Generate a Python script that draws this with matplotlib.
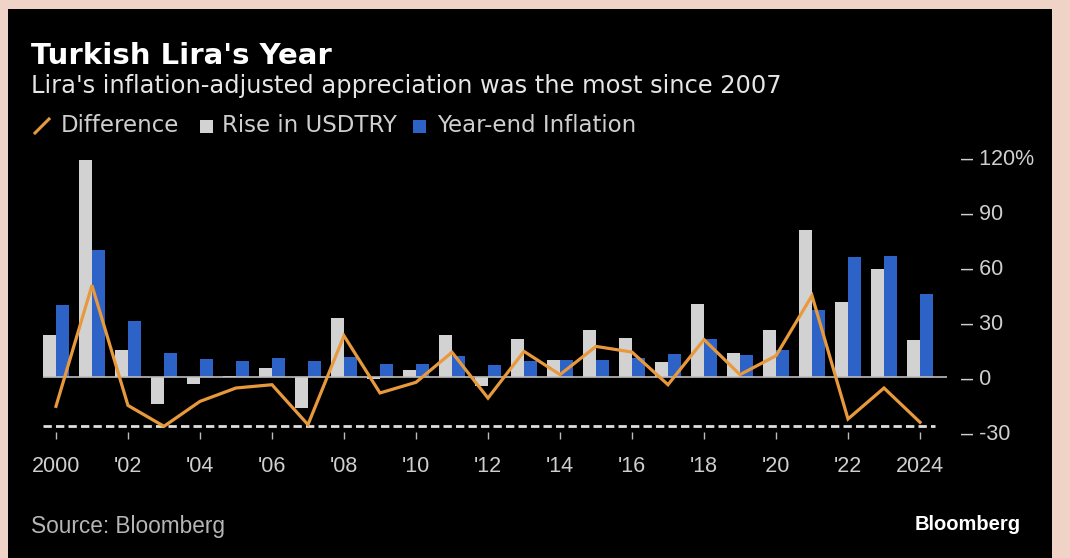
import numpy as np
import matplotlib
matplotlib.use("Agg")
import matplotlib.pyplot as plt
from matplotlib.lines import Line2D
from matplotlib.patches import Rectangle

# Annual values, %
years = np.arange(2000, 2025)
rise_usdtry = [23.1, 118.2, 14.5, -14.7, -3.8, 0.8, 4.9, -16.9, 32.0, -1.0,
               3.6, 23.1, -5.1, 20.9, 9.1, 25.5, 21.3, 8.0, 40.0, 13.1,
               25.5, 80.0, 40.9, 58.9, 20.4]
inflation = [39.5, 69.5, 30.4, 13.1, 9.8, 8.5, 10.4, 8.9, 10.7, 7.1,
             7.1, 11.3, 6.7, 8.5, 9.1, 9.5, 10.4, 12.5, 20.9, 12.2,
             14.5, 36.7, 65.5, 65.8, 45.5]
difference = [-16.0, 50.0, -15.5, -26.9, -13.3, -6.0, -4.2, -26.0, 22.5, -8.7,
              -2.9, 13.5, -11.5, 14.0, 1.3, 16.7, 13.6, -4.2, 20.4, 1.3,
              11.6, 44.4, -22.9, -6.0, -24.7]
ref_level = -26.5
xtick_years = list(range(2000, 2025, 2))
xtick_labels = ["2000"] + ["'%02d" % (y % 100) for y in xtick_years[1:-1]] + ["2024"]
ytick_vals = [-30, 0, 30, 60, 90, 120]
ytick_labels = ["– -30", "– 0", "– 30", "– 60", "– 90", "– 120%"]

PINK = "#eed3c6"
GREY = "#d2d2d2"
BLUE = "#2d62c6"
ORANGE = "#e8993c"
TXT = "#cfcfcf"

W, H = 1070, 558
fig = plt.figure(figsize=(W / 100, H / 100), dpi=100, facecolor=PINK)

# black card
fig.add_artist(Rectangle((8 / W, 0), (1052 - 8) / W, (H - 9) / H,
                         transform=fig.transFigure, facecolor="black",
                         edgecolor="none", zorder=0))

def px(x, y):
    return x / W, 1 - y / H

ax = fig.add_axes([43 / W, 1 - 432 / H, (947 - 43) / W, (432 - 153.4) / H])
ax.set_facecolor("black")
ax.patch.set_alpha(0)

bw = 0.36
ax.bar(years - bw / 2, rise_usdtry, width=bw, color=GREY, zorder=2)
ax.bar(years + bw / 2, inflation, width=bw, color=BLUE, zorder=2)
ax.axhline(0, color="#bdbdbd", lw=1.2, zorder=3)
ax.hlines(ref_level, 1999.64, 2024.42, colors="#dedede", lw=2.0,
          linestyles=(0, (3.0, 1.5)), zorder=3)
ax.plot(years, difference, color=ORANGE, lw=2.3, zorder=4,
        solid_joinstyle="miter")

ax.set_xlim(1999.64, 2024.75)
ax.set_ylim(-30, 122)
for s in ax.spines.values():
    s.set_visible(False)

ax.set_xticks(xtick_years)
ax.set_xticklabels(xtick_labels)
ax.tick_params(axis="x", length=5, width=1, color="#bbbbbb", pad=12,
               labelsize=15.5, labelcolor=TXT)
ax.yaxis.tick_right()
ax.set_yticks(ytick_vals)
ax.set_yticklabels(ytick_labels)
ax.tick_params(axis="y", length=0, pad=10, labelsize=15.5, labelcolor=TXT)
for lab in ax.get_xticklabels() + ax.get_yticklabels():
    lab.set_family(["Liberation Sans", "DejaVu Sans"])

# title block
fig.text(*px(31, 56), "Turkish Lira's Year", color="white", fontsize=21,
         fontweight="bold", family="DejaVu Sans", va="center")
fig.text(*px(31, 86), "Lira's inflation-adjusted appreciation was the most since 2007",
         color="#e6e6e6", fontsize=17.4, family="DejaVu Sans", va="center")

# legend
ly = 126
fig.add_artist(Line2D([35 / W, 49 / W], [1 - 133 / H, 1 - 119 / H],
                      transform=fig.transFigure, color=ORANGE, lw=2.2))
fig.text(*px(61, ly), "Difference", color=TXT, fontsize=16.5,
         family="DejaVu Sans", va="center")
fig.add_artist(Rectangle(px(200, 133), 13 / W, 13 / H, transform=fig.transFigure,
                         facecolor=GREY, edgecolor="none"))
fig.text(*px(222, ly), "Rise in USDTRY", color=TXT, fontsize=16.5,
         family="DejaVu Sans", va="center")
fig.add_artist(Rectangle(px(413, 133), 13 / W, 13 / H, transform=fig.transFigure,
                         facecolor=BLUE, edgecolor="none"))
fig.text(*px(437, ly), "Year-end Inflation", color=TXT, fontsize=16.5,
         family="DejaVu Sans", va="center")

# footer
fig.text(*px(31, 527), "Source: Bloomberg", color="#b5b5b5", fontsize=16.3,
         family=["Liberation Sans", "DejaVu Sans"], va="center")
fig.text(*px(1021, 524), "Bloomberg", color="white", fontsize=14.5,
         fontweight="bold", family=["Liberation Sans", "DejaVu Sans"],
         va="center", ha="right")

fig.savefig("out.png", dpi=100, facecolor=PINK)
